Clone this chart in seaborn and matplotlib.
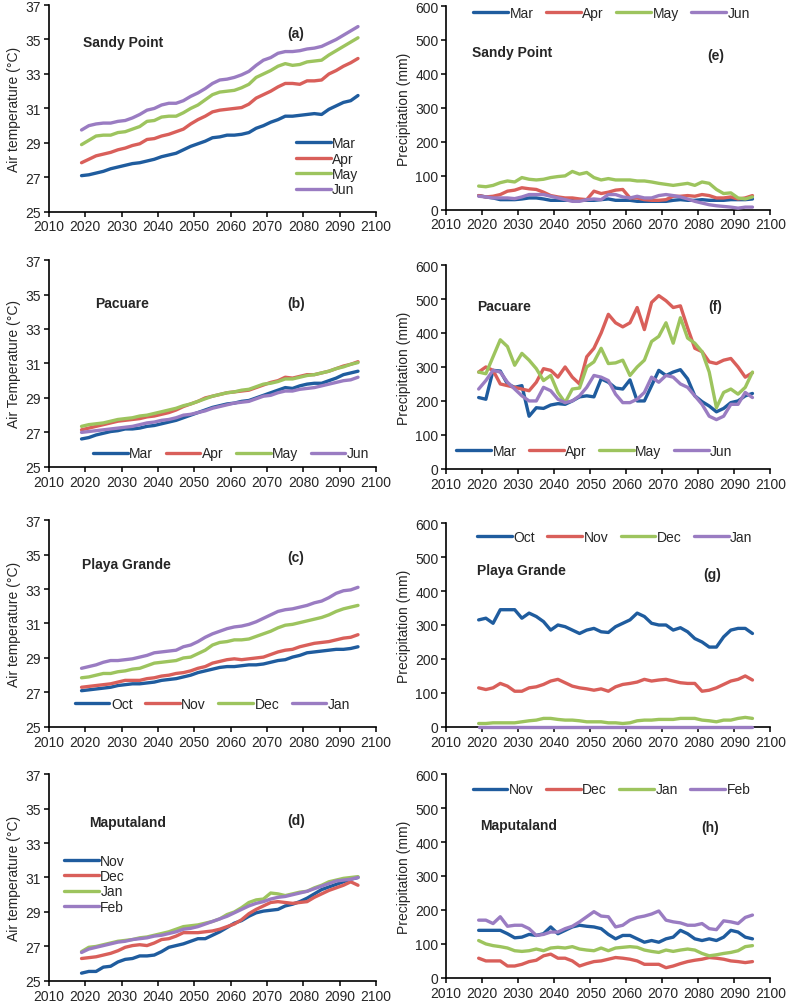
import matplotlib.pyplot as plt
import seaborn as sns
import pandas as pd
import numpy as np

sns.set_theme(style="ticks")
plt.rcParams["font.family"] = ["Liberation Sans", "DejaVu Sans"]

years = list(range(2019, 2096, 2))

colors = ["#1F5C9E", "#D95F5A", "#9DC45E", "#9A7CC2"]

# ---- air temperature (°C) ----
sp_mar = [27.1, 27.15, 27.25, 27.35, 27.5, 27.6, 27.7, 27.8, 27.85, 27.95, 28.05, 28.2, 28.3, 28.4, 28.6, 28.8, 28.95, 29.1, 29.3, 29.35,
          29.45, 29.45, 29.5, 29.6, 29.85, 30.0, 30.2, 30.35, 30.55, 30.55, 30.6, 30.65, 30.7, 30.65, 30.95, 31.15, 31.35, 31.45, 31.75]
sp_apr = [27.85, 28.05, 28.25, 28.35, 28.45, 28.6, 28.7, 28.85, 28.95, 29.2, 29.25, 29.4, 29.5, 29.65, 29.8, 30.1, 30.35, 30.55, 30.8, 30.9,
          30.95, 31.0, 31.05, 31.25, 31.6, 31.8, 32.0, 32.25, 32.45, 32.45, 32.4, 32.6, 32.6, 32.65, 33.0, 33.2, 33.45, 33.65, 33.9]
sp_may = [28.9, 29.15, 29.4, 29.45, 29.45, 29.6, 29.65, 29.8, 29.95, 30.25, 30.3, 30.5, 30.55, 30.55, 30.75, 31.0, 31.2, 31.5, 31.8, 31.95,
          32.0, 32.05, 32.2, 32.4, 32.8, 33.0, 33.2, 33.45, 33.6, 33.5, 33.55, 33.7, 33.75, 33.8, 34.1, 34.35, 34.6, 34.85, 35.1]
sp_jun = [29.75, 30.0, 30.1, 30.15, 30.15, 30.25, 30.3, 30.45, 30.65, 30.9, 31.0, 31.2, 31.3, 31.3, 31.45, 31.7, 31.9, 32.15, 32.45, 32.65,
          32.7, 32.8, 32.95, 33.15, 33.5, 33.8, 33.95, 34.2, 34.3, 34.3, 34.35, 34.45, 34.5, 34.6, 34.8, 35.0, 35.25, 35.5, 35.75]

pa_mar = [26.62, 26.7, 26.85, 26.95, 27.05, 27.1, 27.2, 27.2, 27.25, 27.35, 27.4, 27.5, 27.6, 27.7, 27.85, 28.0, 28.15, 28.3, 28.45, 28.55,
          28.65, 28.7, 28.8, 28.85, 29.0, 29.15, 29.3, 29.45, 29.6, 29.55, 29.7, 29.8, 29.85, 29.85, 30.0, 30.15, 30.35, 30.45, 30.55]
pa_apr = [27.15, 27.25, 27.35, 27.45, 27.55, 27.65, 27.7, 27.75, 27.8, 27.9, 27.95, 28.05, 28.15, 28.3, 28.5, 28.65, 28.8, 29.0, 29.1, 29.2,
          29.3, 29.35, 29.4, 29.45, 29.6, 29.75, 29.9, 30.0, 30.2, 30.15, 30.25, 30.35, 30.35, 30.45, 30.55, 30.7, 30.85, 30.95, 31.1]
pa_may = [27.35, 27.45, 27.5, 27.55, 27.65, 27.75, 27.8, 27.85, 27.95, 28.0, 28.1, 28.2, 28.3, 28.4, 28.55, 28.65, 28.8, 28.95, 29.1, 29.2,
          29.3, 29.35, 29.45, 29.5, 29.65, 29.8, 29.85, 29.95, 30.1, 30.1, 30.2, 30.3, 30.35, 30.45, 30.55, 30.7, 30.8, 30.95, 31.05]
pa_jun = [27.0, 27.05, 27.1, 27.15, 27.2, 27.25, 27.3, 27.35, 27.45, 27.55, 27.6, 27.7, 27.75, 27.85, 28.0, 28.05, 28.15, 28.25, 28.4, 28.5,
          28.6, 28.7, 28.75, 28.8, 28.95, 29.1, 29.15, 29.3, 29.4, 29.4, 29.5, 29.55, 29.6, 29.7, 29.8, 29.9, 30.0, 30.05, 30.2]

pg_oct = [27.1, 27.15, 27.2, 27.25, 27.3, 27.4, 27.45, 27.5, 27.5, 27.55, 27.6, 27.7, 27.75, 27.8, 27.9, 28.0, 28.15, 28.25, 28.35, 28.45,
          28.5, 28.5, 28.55, 28.6, 28.6, 28.65, 28.75, 28.85, 28.9, 29.05, 29.15, 29.3, 29.35, 29.4, 29.45, 29.5, 29.5, 29.55, 29.65]
pg_nov = [27.3, 27.35, 27.4, 27.45, 27.5, 27.6, 27.7, 27.7, 27.7, 27.8, 27.85, 27.95, 28.0, 28.1, 28.15, 28.25, 28.4, 28.5, 28.7, 28.8,
          28.9, 28.95, 28.9, 28.95, 29.0, 29.05, 29.2, 29.35, 29.45, 29.5, 29.65, 29.75, 29.85, 29.9, 29.95, 30.05, 30.15, 30.2, 30.35]
pg_dec = [27.85, 27.9, 28.0, 28.1, 28.1, 28.2, 28.25, 28.35, 28.4, 28.55, 28.7, 28.75, 28.8, 28.85, 29.0, 29.05, 29.25, 29.45, 29.75, 29.9,
          29.95, 30.05, 30.05, 30.1, 30.25, 30.4, 30.55, 30.75, 30.9, 30.95, 31.05, 31.15, 31.25, 31.35, 31.5, 31.7, 31.85, 31.95, 32.05]
pg_jan = [28.4, 28.5, 28.6, 28.75, 28.85, 28.85, 28.9, 28.95, 29.05, 29.15, 29.3, 29.35, 29.4, 29.45, 29.65, 29.75, 29.95, 30.2, 30.4, 30.55,
          30.7, 30.8, 30.85, 30.95, 31.1, 31.3, 31.5, 31.7, 31.8, 31.85, 31.95, 32.05, 32.2, 32.3, 32.5, 32.75, 32.9, 32.95, 33.1]

mp_nov = [25.45, 25.55, 25.55, 25.8, 25.85, 26.1, 26.25, 26.3, 26.45, 26.45, 26.5, 26.7, 26.95, 27.05, 27.15, 27.3, 27.45, 27.45, 27.65, 27.85,
          28.1, 28.35, 28.5, 28.75, 28.95, 29.05, 29.1, 29.15, 29.35, 29.45, 29.6, 29.8, 30.05, 30.3, 30.45, 30.6, 30.75, 30.9, 31.0]
mp_dec = [26.3, 26.35, 26.4, 26.5, 26.6, 26.75, 26.95, 27.05, 27.1, 27.05, 27.2, 27.4, 27.45, 27.6, 27.8, 27.8, 27.8, 27.85, 27.9, 28.0,
          28.15, 28.3, 28.55, 28.9, 29.15, 29.35, 29.55, 29.6, 29.55, 29.5, 29.55, 29.6, 29.85, 30.05, 30.25, 30.4, 30.55, 30.75, 30.55]
mp_jan = [26.7, 26.95, 27.0, 27.1, 27.2, 27.3, 27.35, 27.4, 27.5, 27.55, 27.65, 27.75, 27.85, 28.0, 28.15, 28.2, 28.25, 28.35, 28.45, 28.6,
          28.85, 29.0, 29.25, 29.55, 29.7, 29.75, 30.1, 30.05, 29.95, 30.05, 30.15, 30.2, 30.4, 30.55, 30.75, 30.85, 30.95, 31.0, 31.05]
mp_feb = [26.65, 26.85, 26.95, 27.05, 27.15, 27.25, 27.3, 27.4, 27.45, 27.5, 27.6, 27.65, 27.75, 27.85, 28.0, 28.05, 28.15, 28.3, 28.45, 28.6,
          28.75, 28.95, 29.15, 29.35, 29.5, 29.6, 29.75, 29.85, 29.9, 30.0, 30.1, 30.2, 30.35, 30.5, 30.65, 30.8, 30.85, 30.9, 31.0]

# ---- precipitation (mm) ----
sp_p_mar = [42, 38, 35, 30, 30, 30, 32, 35, 35, 32, 28, 28, 28, 30, 30, 28, 28, 30, 32, 28,
            28, 28, 25, 25, 25, 25, 25, 28, 30, 28, 28, 30, 28, 28, 28, 30, 30, 30, 32]
sp_p_apr = [42, 38, 40, 45, 55, 58, 65, 62, 60, 52, 42, 38, 35, 35, 32, 30, 55, 48, 52, 58,
            60, 35, 35, 30, 28, 28, 30, 40, 40, 42, 40, 45, 42, 35, 35, 38, 32, 35, 42]
sp_p_may = [70, 68, 72, 80, 85, 82, 95, 90, 88, 90, 95, 98, 100, 113, 105, 110, 95, 88, 92, 88,
            88, 88, 85, 85, 82, 78, 75, 72, 75, 78, 72, 82, 78, 60, 48, 50, 35, 32, 38]
sp_p_jun = [40, 38, 35, 35, 35, 33, 38, 45, 45, 45, 40, 35, 30, 25, 25, 30, 32, 30, 45, 45,
            38, 35, 40, 35, 35, 42, 45, 42, 38, 32, 25, 20, 15, 12, 10, 8, 5, 8, 8]

pa_p_mar = [210, 205, 290, 288, 250, 240, 245, 155, 180, 178, 188, 192, 190, 200, 212, 215, 212, 265, 255, 238,
            235, 262, 200, 200, 245, 290, 275, 285, 292, 265, 215, 198, 185, 168, 178, 195, 200, 215, 222]
pa_p_apr = [285, 300, 290, 250, 245, 240, 235, 230, 255, 295, 290, 270, 300, 270, 250, 330, 355, 400, 455, 430,
            418, 430, 475, 410, 490, 510, 495, 475, 480, 415, 355, 345, 315, 310, 320, 325, 300, 270, 283]
pa_p_may = [285, 280, 330, 380, 360, 305, 340, 320, 295, 260, 275, 225, 195, 235, 238, 300, 315, 355, 310, 312,
            320, 275, 300, 320, 375, 390, 430, 370, 445, 385, 370, 345, 285, 180, 225, 235, 220, 240, 285]
pa_p_jun = [235, 260, 290, 285, 255, 235, 215, 200, 200, 240, 230, 205, 195, 200, 215, 240, 275, 270, 260, 220,
            195, 195, 205, 225, 270, 255, 275, 270, 250, 240, 215, 190, 155, 145, 155, 190, 190, 225, 210]

pg_p_oct = [315, 320, 305, 345, 345, 345, 320, 335, 325, 310, 285, 300, 295, 285, 275, 285, 290, 280, 278, 295,
            305, 315, 335, 325, 305, 300, 300, 285, 292, 280, 260, 250, 235, 235, 265, 285, 290, 290, 275]
pg_p_nov = [115, 110, 115, 128, 120, 105, 105, 115, 118, 125, 135, 140, 130, 120, 115, 112, 108, 112, 105, 118,
            125, 128, 132, 140, 135, 138, 140, 135, 130, 128, 128, 105, 108, 115, 125, 135, 140, 150, 138]
pg_p_dec = [10, 10, 12, 12, 12, 12, 15, 18, 20, 25, 25, 22, 20, 20, 18, 15, 15, 15, 12, 12,
            10, 12, 18, 20, 20, 22, 22, 22, 25, 25, 25, 20, 18, 15, 20, 20, 25, 28, 25]
pg_p_jan = [0, 0, 0, 0, 0, 0, 0, 0, 0, 0, 0, 0, 0, 0, 0, 0, 0, 0, 0, 0,
            0, 0, 0, 0, 0, 0, 0, 0, 0, 0, 0, 0, 0, 0, 0, 0, 0, 0, 0]

mp_p_nov = [140, 140, 140, 140, 130, 118, 120, 128, 125, 130, 150, 130, 140, 150, 155, 152, 150, 145, 128, 115,
            125, 125, 115, 105, 110, 105, 115, 120, 140, 130, 115, 110, 115, 110, 120, 140, 135, 120, 115]
mp_p_dec = [58, 50, 50, 50, 35, 35, 40, 48, 52, 65, 70, 58, 58, 50, 35, 42, 48, 50, 55, 60,
            58, 55, 50, 40, 40, 40, 30, 35, 42, 48, 52, 55, 60, 58, 55, 50, 48, 45, 48]
mp_p_jan = [110, 100, 95, 92, 88, 80, 78, 80, 85, 80, 88, 90, 88, 92, 85, 82, 80, 88, 80, 88,
            90, 92, 90, 82, 78, 75, 82, 78, 82, 85, 82, 72, 65, 68, 72, 75, 80, 92, 95]
mp_p_feb = [170, 170, 160, 180, 152, 155, 155, 145, 125, 128, 135, 135, 145, 152, 165, 180, 195, 182, 180, 150,
            155, 170, 178, 182, 188, 197, 170, 165, 162, 155, 155, 160, 145, 142, 168, 165, 160, 178, 185]

months_mj = ["Mar", "Apr", "May", "Jun"]
months_oj = ["Oct", "Nov", "Dec", "Jan"]
months_nf = ["Nov", "Dec", "Jan", "Feb"]

FS = 10

fig = plt.figure(figsize=(7.87, 10.04), dpi=100)


def draw(rect, series, labels, ylim, yticks, ylabel, site, site_xy, tag, tag_xy, leg_xy, ncol):
    ax = fig.add_axes(rect)
    for vals, lab, c in zip(series, labels, colors):
        sns.lineplot(x=years, y=vals, color=c, lw=2.4, label=lab, ax=ax,
                     clip_on=False, zorder=3)
    ax.set_xlim(2010, 2100)
    ax.set_xticks(np.arange(2010, 2101, 10))
    ax.set_ylim(*ylim)
    ax.set_yticks(yticks)
    ax.set_ylabel(ylabel, fontsize=FS, labelpad=3)
    ax.set_xlabel("")
    ax.tick_params(labelsize=FS, length=3.5, width=1.1, color="black", pad=2)
    for s in ["left", "bottom"]:
        ax.spines[s].set_color("black")
        ax.spines[s].set_linewidth(1.2)
    sns.despine(ax=ax)
    ax.text(site_xy[0], site_xy[1], site, transform=ax.transAxes, fontsize=FS,
            fontweight="bold", ha="left", va="center")
    ax.text(tag_xy[0], tag_xy[1], tag, transform=ax.transAxes, fontsize=FS,
            fontweight="bold", ha="center", va="center")
    ax.legend(loc="center", bbox_to_anchor=leg_xy, ncol=ncol, frameon=False,
              fontsize=FS, handlelength=2.5, handletextpad=0.1,
              columnspacing=0.9, labelspacing=0.1, borderpad=0)
    return ax


t_ticks = [25, 27, 29, 31, 33, 35, 37]
p_ticks = [0, 100, 200, 300, 400, 500, 600]
L = [0.062, 0.416]
R = [0.567, 0.412]

draw([L[0], 0.788, L[1], 0.206], [sp_mar, sp_apr, sp_may, sp_jun], months_mj, (25, 37), t_ticks,
     "Air temperature (°C)", "Sandy Point", (0.104, 0.82), "(a)", (0.755, 0.865), (0.85, 0.22), 1)
draw([R[0], 0.790, R[1], 0.203], [sp_p_mar, sp_p_apr, sp_p_may, sp_p_jun], months_mj, (0, 600), p_ticks,
     "Precipitation (mm)", "Sandy Point", (0.08, 0.775), "(e)", (0.83, 0.76), (0.51, 0.965), 4)

draw([L[0], 0.534, L[1], 0.206], [pa_mar, pa_apr, pa_may, pa_jun], months_mj, (25, 37), t_ticks,
     "Air Temperature (°C)", "Pacuare", (0.14, 0.79), "(b)", (0.755, 0.79), (0.557, 0.065), 4)
draw([R[0], 0.532, R[1], 0.203], [pa_p_mar, pa_p_apr, pa_p_may, pa_p_jun], months_mj, (0, 600), p_ticks,
     "Precipitation (mm)", "Pacuare", (0.096, 0.80), "(f)", (0.83, 0.80), (0.457, 0.088), 4)

draw([L[0], 0.275, L[1], 0.206], [pg_oct, pg_nov, pg_dec, pg_jan], months_oj, (25, 37), t_ticks,
     "Air temperature (°C)", "Playa Grande", (0.10, 0.79), "(c)", (0.755, 0.82), (0.50, 0.11), 4)
draw([R[0], 0.275, R[1], 0.203], [pg_p_oct, pg_p_nov, pg_p_dec, pg_p_jan], months_oj, (0, 600), p_ticks,
     "Precipitation (mm)", "Playa Grande", (0.096, 0.77), "(g)", (0.82, 0.75), (0.52, 0.93), 4)

draw([L[0], 0.022, L[1], 0.206], [mp_nov, mp_dec, mp_jan, mp_feb], months_nf, (25, 37), t_ticks,
     "Air temperature (°C)", "Maputaland", (0.122, 0.77), "(d)", (0.755, 0.78), (0.14, 0.47), 1)
draw([R[0], 0.025, R[1], 0.203], [mp_p_nov, mp_p_dec, mp_p_jan, mp_p_feb], months_nf, (0, 600), p_ticks,
     "Precipitation (mm)", "Maputaland", (0.105, 0.75), "(h)", (0.815, 0.74), (0.51, 0.925), 4)

fig.savefig("out.png", dpi=100, facecolor="white")
